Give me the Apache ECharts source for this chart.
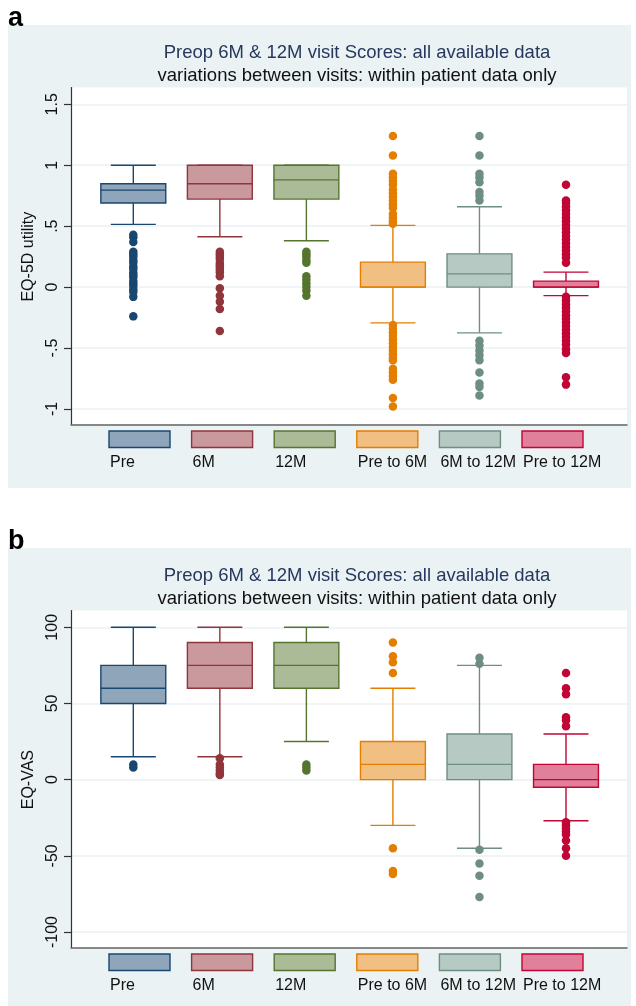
<!DOCTYPE html>
<html>
<head>
<meta charset="utf-8">
<script src="https://cdn.jsdelivr.net/npm/echarts@6/dist/echarts.min.js"></script>
<style>
  html, body { margin: 0; padding: 0; background: #fff; }
  #chart { width: 636px; height: 1006px; }
</style>
</head>
<body>
<div id="chart"></div>
<script>
const categories = ['Pre', '6M', '12M', 'Pre to 6M', '6M to 12M', 'Pre to 12M']
const lineColors = ['#1a476f', '#90353b', '#55752f', '#e37e00', '#6e8e84', '#c10534']
const fillColors = ['#8fa5ba', '#c9999d', '#abba97', '#f1bf82', '#b7c9c3', '#e0809a']

// EQ-5D utility: [lower whisker, Q1, median, Q3, upper whisker]
const eq5dBoxes = [
  [0.515, 0.69, 0.796, 0.848, 1.0],
  [0.413, 0.722, 0.848, 1.0, 1.0],
  [0.38, 0.722, 0.88, 1.0, 1.0],
  [-0.293, 0, 0, 0.205, 0.507],
  [-0.375, 0, 0.109, 0.273, 0.66],
  [-0.07, 0, 0, 0.049, 0.123]
]
const eq5dOutliers = [
  [0.43, 0.41, 0.37, 0.29, 0.27, 0.25, 0.22, 0.2, 0.17, 0.15, 0.12, 0.1, 0.08, 0.05, 0.03, 0.01, -0.02, -0.04, -0.08, -0.24],
  [0.29, 0.27, 0.25, 0.23, 0.2, 0.18, 0.16, 0.14, 0.12, 0.09, -0.01, -0.07, -0.12, -0.18, -0.36],
  [0.29, 0.27, 0.25, 0.22, 0.2, 0.09, 0.06, 0.03, 0.0, -0.03, -0.07],
  [1.24, 1.08, 0.93, 0.9, 0.87, 0.84, 0.8, 0.77, 0.74, 0.71, 0.68, 0.65, 0.6, 0.57, 0.54, 0.52,
    -0.31, -0.34, -0.37, -0.4, -0.43, -0.46, -0.49, -0.52, -0.55, -0.58, -0.6, -0.67, -0.7, -0.73, -0.76, -0.91, -0.98],
  [1.24, 1.08, 0.93, 0.9, 0.86, 0.78, 0.75, 0.71, -0.44, -0.48, -0.52, -0.56, -0.6, -0.7, -0.79, -0.82, -0.89],
  [0.84, 0.71, 0.69, 0.66, 0.63, 0.6, 0.57, 0.54, 0.51, 0.48, 0.45, 0.42, 0.39, 0.36, 0.33, 0.3, 0.27, 0.24, 0.2,
    -0.08, -0.11, -0.14, -0.17, -0.2, -0.23, -0.26, -0.29, -0.32, -0.35, -0.38, -0.41, -0.44, -0.47, -0.51, -0.54, -0.74, -0.8]
]
const eq5dTicks = [-1, -0.5, 0, 0.5, 1, 1.5]

// EQ-VAS
const vasBoxes = [
  [15, 50, 60, 75, 100],
  [15, 60, 75, 90, 100],
  [25, 60, 75, 90, 100],
  [-30, 0, 10, 25, 60],
  [-45, 0, 10, 30, 75],
  [-27, -5, 0, 10, 30]
]
const vasOutliers = [
  [10, 8],
  [14, 10, 8, 6, 4, 3],
  [10, 8, 6],
  [90, 81, 77, 70, -45, -60, -62],
  [80, 76, -46, -55, -63, -77],
  [70, 60, 56, 41, 39, 35, -28, -30, -32, -34, -36, -40, -45, -50]
]
const vasTicks = [-100, -50, 0, 50, 100]

const titleLine1 = 'Preop 6M & 12M visit Scores: all available data'
const titleLine2 = 'variations between visits: within patient data only'
const FONT = 'Liberation Sans, Arial, Helvetica, sans-serif'

const panels = [
  { letter: 'a', dy: 0, boxes: eq5dBoxes, outliers: eq5dOutliers, ticks: eq5dTicks, yName: 'EQ-5D utility' },
  { letter: 'b', dy: 523, boxes: vasBoxes, outliers: vasOutliers, ticks: vasTicks, yName: 'EQ-VAS' }
]

function tickLabel(v) {
  // stata style: .5 instead of 0.5
  return String(v).replace(/^(-?)0\./, '$1.')
}

function renderBox(params, api) {
  const i = api.value(0)
  const idx = params.dataIndex
  const x = api.coord([i, 0])[0]
  const lo = api.coord([i, api.value(1)])[1]
  const q1 = api.coord([i, api.value(2)])[1]
  const med = api.coord([i, api.value(3)])[1]
  const q3 = api.coord([i, api.value(4)])[1]
  const hi = api.coord([i, api.value(5)])[1]
  const unit = api.size([1, 0])[0]
  const bw = unit * 0.75
  const cw = unit * 0.52
  const stroke = lineColors[idx]
  const lineStyle = { stroke: stroke, lineWidth: 1.4, fill: null }
  return {
    type: 'group',
    children: [
      { type: 'line', shape: { x1: x, y1: hi, x2: x, y2: q3 }, style: lineStyle },
      { type: 'line', shape: { x1: x, y1: q1, x2: x, y2: lo }, style: lineStyle },
      { type: 'line', shape: { x1: x - cw / 2, y1: hi, x2: x + cw / 2, y2: hi }, style: lineStyle },
      { type: 'line', shape: { x1: x - cw / 2, y1: lo, x2: x + cw / 2, y2: lo }, style: lineStyle },
      { type: 'rect', shape: { x: x - bw / 2, y: q3, width: bw, height: q1 - q3 },
        style: { fill: fillColors[idx], stroke: stroke, lineWidth: 1.4 } },
      { type: 'line', shape: { x1: x - bw / 2, y1: med, x2: x + bw / 2, y2: med }, style: lineStyle }
    ]
  }
}

const option = {
  animation: false,
  backgroundColor: '#fff',
  textStyle: { fontFamily: FONT },
  title: [],
  grid: [],
  xAxis: [],
  yAxis: [],
  series: [],
  graphic: []
}

panels.forEach((p, pi) => {
  const dy = p.dy
  // background panel
  option.graphic.push({
    type: 'rect', z: -10, silent: true,
    shape: { x: 8, y: 25 + dy, width: 623, height: 463 },
    style: { fill: '#eaf2f3' }
  })
  option.graphic.push({
    type: 'text', left: 8, top: 5 + dy,
    style: { text: p.letter, font: 'bold 27px ' + FONT, fill: '#000' }
  })
  // legend boxes
  categories.forEach((c, i) => {
    option.graphic.push({
      type: 'rect',
      shape: { x: 109 + i * 82.6, y: 431 + dy, width: 61, height: 16.5 },
      style: { fill: fillColors[i], stroke: lineColors[i], lineWidth: 1.4 }
    })
    option.graphic.push({
      type: 'text', x: 110 + i * 82.6, y: 463 + dy,
      style: { text: c, font: '16px ' + FONT, fill: '#111', verticalAlign: 'middle' }
    })
  })

  option.title.push({
    text: titleLine1,
    subtext: titleLine2,
    left: 357, top: 43 + dy, textAlign: 'center', itemGap: 4, padding: 0,
    textStyle: { fontSize: 18.5, fontWeight: 'normal', color: '#26385e', fontFamily: FONT },
    subtextStyle: { fontSize: 18.5, color: '#111', fontFamily: FONT }
  })

  const outer = pi * 2
  const inner = pi * 2 + 1
  // outer grid: white plot region + axis lines
  option.grid.push({
    left: 71, right: 9, top: 87.5 + dy, height: 336.8,
    show: true, backgroundColor: '#fff', borderWidth: 0
  })
  // inner grid: tick range
  option.grid.push({
    left: 71, right: 9, top: 104.3 + dy, height: 304.7
  })
  option.xAxis.push({
    gridIndex: outer, type: 'value', min: 0, max: 1,
    axisLine: { show: true, lineStyle: { color: '#666', width: 1.5 } },
    axisTick: { show: false }, axisLabel: { show: false }, splitLine: { show: false }
  })
  option.xAxis.push({
    gridIndex: inner, type: 'value', min: 0.28, max: 6.705, show: false
  })
  option.yAxis.push({
    gridIndex: outer, type: 'value', min: 0, max: 1,
    axisLine: { show: true, lineStyle: { color: '#333', width: 1.2 } },
    axisTick: { show: false }, axisLabel: { show: false }, splitLine: { show: false }
  })
  const tmin = p.ticks[0]
  const tmax = p.ticks[p.ticks.length - 1]
  option.yAxis.push({
    gridIndex: inner, type: 'value',
    min: tmin, max: tmax, interval: p.ticks[1] - p.ticks[0],
    name: p.yName, nameLocation: 'middle', nameGap: 34,
    nameTextStyle: { fontSize: 16, color: '#111', fontFamily: FONT },
    axisLine: { show: false },
    axisTick: { show: true, length: 7, lineStyle: { color: '#333', width: 1.2 } },
    axisLabel: { rotate: 90, fontSize: 16, color: '#111', margin: 10, formatter: tickLabel, fontFamily: FONT },
    splitLine: { show: true, lineStyle: { color: '#eaf2f3', width: 1.5 } }
  })

  option.series.push({
    type: 'custom',
    xAxisIndex: inner, yAxisIndex: inner,
    renderItem: renderBox,
    z: 3,
    data: p.boxes.map((b, i) => [i + 1].concat(b))
  })
  p.outliers.forEach((vals, i) => {
    option.series.push({
      type: 'scatter',
      xAxisIndex: inner, yAxisIndex: inner,
      symbolSize: 8.5, z: 4,
      itemStyle: { color: lineColors[i], opacity: 1 },
      data: vals.map(v => [i + 1, v])
    })
  })
})

const chart = echarts.init(document.getElementById('chart'), null, { renderer: 'canvas' })
chart.setOption(option)
</script>
</body>
</html>
